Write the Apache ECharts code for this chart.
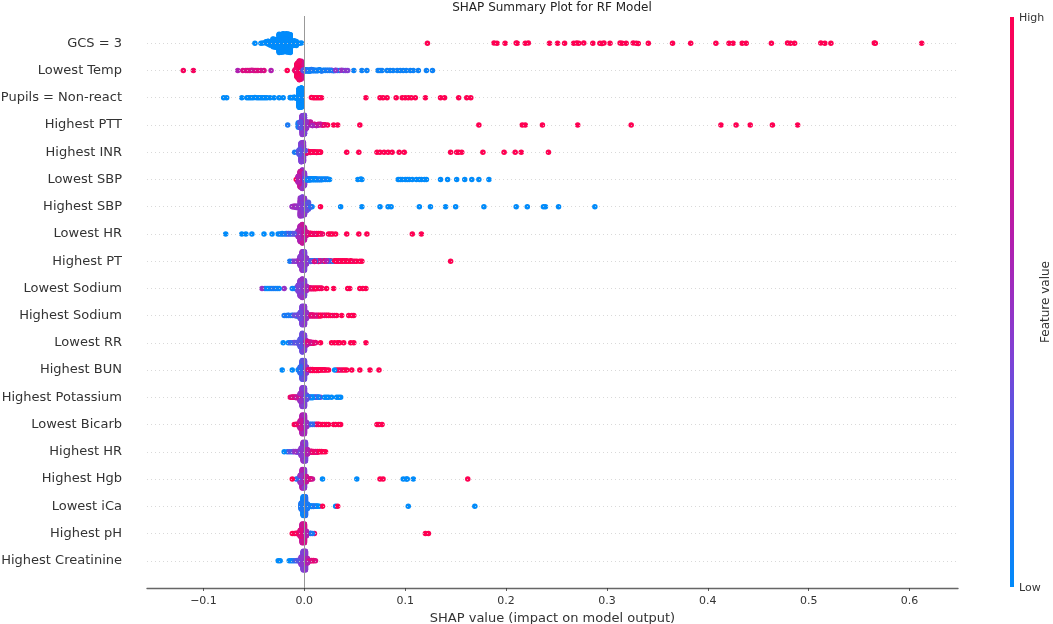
<!DOCTYPE html>
<html lang="en">
<head>
    <meta charset="UTF-8">
    <title>SHAP Summary Plot for RF Model</title>
    <script src="https://cdn.jsdelivr.net/npm/echarts@6.0.0/dist/echarts.min.js"></script>
    <style>
        html, body { margin: 0; padding: 0; background: #fff; }
        #chart { width: 1053px; height: 624px; }
    </style>
</head>
<body>
<div id="chart"></div>
<script>
    // features, top row first
    const features = ['GCS = 3', 'Lowest Temp', 'Pupils = Non-react', 'Highest PTT', 'Highest INR',
        'Lowest SBP', 'Highest SBP', 'Lowest HR', 'Highest PT', 'Lowest Sodium', 'Highest Sodium',
        'Lowest RR', 'Highest BUN', 'Highest Potassium', 'Lowest Bicarb', 'Highest HR', 'Highest Hgb',
        'Lowest iCa', 'Highest pH', 'Highest Creatinine'];
    const tickValues = [-0.1, 0.0, 0.1, 0.2, 0.3, 0.4, 0.5, 0.6];

    // each point: [shap value, feature value (0 low .. 1 high), count]
    const gcs3 = [
        [-0.049, 0], [-0.043, 0], [-0.041, 0],
        [-0.038, 0, 4], [-0.036, 0, 6], [-0.034, 0, 6],
        [-0.031, 0, 10], [-0.029, 0, 13], [-0.027, 0, 14],
        [-0.025, 0, 25], [-0.023, 0, 28], [-0.021, 0, 27],
        [-0.018, 0, 28], [-0.016, 0, 28], [-0.014, 0, 24],
        [-0.012, 0, 9], [-0.010, 0, 7], [-0.008, 0, 5], [-0.005, 0], [-0.003, 0],
        [0.122, 1], [0.188, 1], [0.191, 1], [0.199, 1], [0.210, 1], [0.211, 1], [0.219, 1], [0.222, 1],
        [0.243, 1], [0.251, 1], [0.258, 1], [0.267, 1], [0.270, 1], [0.272, 1], [0.277, 1], [0.286, 1],
        [0.293, 1], [0.295, 1], [0.297, 1], [0.303, 1], [0.313, 1], [0.315, 1], [0.319, 1], [0.326, 1],
        [0.329, 1], [0.331, 1], [0.341, 1], [0.365, 1], [0.383, 1], [0.408, 1], [0.421, 1], [0.425, 1],
        [0.434, 1], [0.438, 1], [0.463, 1], [0.479, 1], [0.482, 1], [0.486, 1], [0.512, 1], [0.516, 1],
        [0.522, 1], [0.565, 1], [0.566, 1], [0.612, 1]
    ];
    const lowestTemp = [
        [-0.120, 0.95], [-0.110, 0.95], [-0.066, 0.6],
        [-0.061, 0.8], [-0.058, 0.75], [-0.056, 0.8], [-0.054, 0.85], [-0.052, 0.75], [-0.050, 0.8],
        [-0.048, 0.7], [-0.046, 0.8], [-0.043, 0.75], [-0.040, 0.8],
        [-0.033, 0.6], [-0.017, 1],
        [-0.009, 0.9, 6], [-0.007, 0.95, 60], [-0.005, 0.9, 70], [-0.003, 0.75, 12],
        [-0.001, 0.3, 4], [0.001, 0.1, 6], [0.003, 0.05, 5], [0.005, 0.05, 4], [0.007, 0.1, 4],
        [0.009, 0.05, 4], [0.011, 0.1, 3], [0.013, 0.05, 3], [0.015, 0.05, 3], [0.017, 0.1, 3],
        [0.019, 0.05, 2], [0.021, 0.05, 2], [0.023, 0.1, 2], [0.025, 0.05, 2],
        [0.027, 0.4, 2], [0.029, 0.1], [0.031, 0.45, 2], [0.033, 0.1], [0.035, 0.4], [0.037, 0.5],
        [0.039, 0.1], [0.041, 0.45], [0.043, 0.4],
        [0.049, 0.05], [0.057, 0.05], [0.062, 0.05], [0.073, 0.05], [0.075, 0.05], [0.077, 0.05],
        [0.082, 0.05], [0.085, 0.05], [0.088, 0.05], [0.092, 0.05], [0.095, 0.05], [0.098, 0.05],
        [0.101, 0.05], [0.105, 0.05], [0.108, 0.05], [0.113, 0.05], [0.121, 0.05], [0.127, 0.05]
    ];
    const pupilsNonReact = [
        [-0.080, 0], [-0.077, 0], [-0.062, 0],
        [-0.057, 0], [-0.055, 0], [-0.053, 0], [-0.051, 0], [-0.049, 0], [-0.047, 0], [-0.045, 0],
        [-0.043, 0], [-0.041, 0], [-0.039, 0], [-0.037, 0], [-0.034, 0], [-0.030, 0], [-0.025, 0], [-0.021, 0],
        [-0.014, 0, 2], [-0.012, 0, 2], [-0.010, 0, 3], [-0.008, 0, 4],
        [-0.005, 0, 80], [-0.003, 0, 90],
        [0.007, 1], [0.009, 1], [0.011, 1], [0.013, 1], [0.015, 1], [0.017, 1],
        [0.061, 1], [0.075, 1], [0.078, 1], [0.082, 1], [0.091, 1], [0.097, 1], [0.100, 1], [0.103, 1],
        [0.106, 1], [0.110, 1], [0.120, 1], [0.135, 1], [0.139, 1], [0.153, 1], [0.161, 1], [0.165, 1]
    ];
    const highestPTT = [
        [-0.0165, 0.1], [-0.006, 0.1, 6],
        [-0.004, 0.3, 30], [-0.002, 0.45, 60], [0.000, 0.4, 60], [0.002, 0.5, 30],
        [0.004, 0.6, 6], [0.006, 0.7, 5], [0.008, 0.55, 5], [0.010, 0.75, 4], [0.012, 0.6, 4],
        [0.014, 0.8, 3], [0.016, 0.7, 3], [0.018, 0.85, 2], [0.020, 0.9, 2],
        [0.023, 1], [0.029, 1], [0.033, 1], [0.055, 1], [0.173, 1], [0.216, 1], [0.219, 1], [0.236, 1],
        [0.271, 1], [0.324, 1], [0.413, 1], [0.428, 1], [0.442, 1], [0.464, 1], [0.489, 1]
    ];
    const highestINR = [
        [-0.0096, 0.1],
        [-0.005, 0.3, 30], [-0.003, 0.4, 70], [-0.001, 0.45, 60], [0.001, 0.35, 20],
        [0.002, 0.9, 6], [0.004, 1, 5], [0.006, 0.95, 5], [0.008, 1, 4], [0.010, 0.9, 4],
        [0.012, 1, 3], [0.014, 1, 2], [0.016, 1, 2],
        [0.042, 1], [0.054, 1], [0.072, 1], [0.075, 1], [0.079, 1], [0.083, 1], [0.087, 1], [0.094, 1],
        [0.099, 1], [0.145, 1], [0.151, 1], [0.153, 1], [0.156, 1], [0.177, 1], [0.198, 1], [0.209, 1],
        [0.215, 1], [0.242, 1]
    ];
    const lowestSBP = [
        [-0.008, 1],
        [-0.006, 0.6, 20], [-0.004, 0.7, 50], [-0.002, 0.5, 60], [0.000, 0.45, 40], [0.001, 0.3, 10],
        [0.003, 0.05, 5], [0.005, 0, 5], [0.007, 0.05, 4], [0.009, 0, 4], [0.011, 0.05, 4], [0.013, 0, 3],
        [0.015, 0.05, 3], [0.017, 0, 3], [0.019, 0, 2], [0.021, 0.05, 2], [0.023, 0, 2], [0.025, 0],
        [0.053, 0], [0.056, 0], [0.057, 0],
        [0.093, 0], [0.095, 0], [0.097, 0], [0.100, 0], [0.102, 0], [0.104, 0], [0.107, 0], [0.111, 0],
        [0.114, 0], [0.116, 0], [0.119, 0], [0.121, 0], [0.135, 0], [0.142, 0], [0.151, 0], [0.159, 0],
        [0.166, 0], [0.173, 0], [0.183, 0]
    ];
    const highestSBP = [
        [-0.012, 0.5, 2], [-0.010, 0.55, 3], [-0.008, 0.5, 4], [-0.006, 0.45, 6],
        [-0.004, 0.5, 20], [-0.002, 0.4, 60], [0.000, 0.45, 70], [0.002, 0.35, 30], [0.004, 0.3, 6],
        [0.006, 0.2, 3],
        [0.0076, 0], [0.016, 1], [0.036, 0], [0.057, 0], [0.075, 0], [0.083, 0], [0.086, 0], [0.114, 0],
        [0.125, 0], [0.140, 0], [0.150, 0], [0.178, 0], [0.210, 0], [0.221, 0], [0.237, 0], [0.239, 0],
        [0.252, 0], [0.288, 0]
    ];
    const lowestHR = [
        [-0.078, 0], [-0.062, 0], [-0.058, 0], [-0.052, 0], [-0.040, 0], [-0.032, 0],
        [-0.026, 0], [-0.024, 0.05], [-0.022, 0, 2], [-0.020, 0.1], [-0.018, 0.05, 2],
        [-0.016, 0.3, 2], [-0.014, 0.2, 2], [-0.012, 0.35, 2], [-0.010, 0.3, 2], [-0.008, 0.4, 3],
        [-0.006, 0.55, 20], [-0.004, 0.6, 50], [-0.002, 0.7, 60], [0.000, 0.65, 40], [0.002, 0.75, 12],
        [0.004, 0.9, 4], [0.006, 0.95, 4], [0.008, 1, 3], [0.010, 0.9, 3], [0.012, 1, 3], [0.014, 0.95, 2],
        [0.016, 1, 2], [0.018, 0.9],
        [0.024, 1], [0.026, 1], [0.028, 1], [0.031, 1], [0.042, 1], [0.054, 1], [0.062, 1], [0.107, 1], [0.116, 1]
    ];
    const highestPT = [
        [-0.0145, 0.1], [-0.012, 0.5], [-0.010, 0.45], [-0.008, 0.5], [-0.006, 0.55, 2],
        [-0.004, 0.45, 30], [-0.002, 0.5, 60], [0.000, 0.4, 60], [0.002, 0.45, 20],
        [0.004, 0.6, 3], [0.006, 0.3, 3], [0.008, 0.1, 2], [0.010, 0.8, 3], [0.012, 0.2, 2], [0.014, 0.85, 3],
        [0.016, 0.7, 2], [0.018, 0.1, 2], [0.020, 0.9, 2], [0.022, 0.6, 2], [0.024, 0.2, 2], [0.026, 0.9, 2],
        [0.028, 0.1],
        [0.030, 1, 2], [0.032, 1, 2], [0.034, 0.95, 2], [0.036, 1, 2], [0.038, 1, 2], [0.040, 0.9, 2],
        [0.042, 1, 2], [0.044, 1], [0.046, 1, 2], [0.048, 0.95], [0.050, 1], [0.052, 1], [0.055, 1],
        [0.057, 1], [0.145, 1]
    ];
    const lowestSodium = [
        [-0.042, 0.5], [-0.039, 0.05], [-0.037, 0], [-0.035, 0.05], [-0.033, 0], [-0.031, 0.1], [-0.029, 0],
        [-0.027, 0.05], [-0.025, 0], [-0.020, 0.5], [-0.012, 0.05], [-0.010, 0.1], [-0.008, 0.2, 2],
        [-0.006, 0.4, 20], [-0.004, 0.45, 50], [-0.002, 0.5, 60], [0.000, 0.4, 50], [0.002, 0.55, 15],
        [0.005, 0.8, 4], [0.007, 0.9, 3], [0.009, 0.85, 3], [0.011, 1, 3], [0.013, 0.9, 2], [0.015, 1, 2],
        [0.017, 0.95, 2],
        [0.022, 1], [0.029, 1], [0.043, 1], [0.045, 1], [0.055, 1], [0.058, 1], [0.061, 1]
    ];
    const highestSodium = [
        [-0.020, 0.1], [-0.018, 0.05], [-0.016, 0.1, 2], [-0.014, 0.3], [-0.012, 0.1, 2], [-0.010, 0.35, 2],
        [-0.008, 0.2, 3], [-0.006, 0.4, 4],
        [-0.004, 0.35, 20], [-0.002, 0.4, 60], [0.000, 0.45, 60], [0.002, 0.5, 20],
        [0.004, 0.75, 4], [0.006, 0.8, 4], [0.008, 0.85, 4], [0.010, 0.9, 3], [0.012, 0.8, 3], [0.014, 0.95, 3],
        [0.016, 1, 3], [0.018, 0.9, 2], [0.020, 1, 2], [0.022, 0.95, 2], [0.024, 1, 2], [0.026, 1],
        [0.028, 0.95], [0.030, 1], [0.032, 1],
        [0.037, 1], [0.044, 1], [0.047, 1], [0.049, 1]
    ];
    const lowestRR = [
        [-0.021, 0], [-0.016, 0], [-0.014, 0.2], [-0.012, 0.3], [-0.010, 0.35, 2], [-0.008, 0.3, 2],
        [-0.006, 0.4, 3],
        [-0.004, 0.3, 25], [-0.002, 0.35, 60], [0.000, 0.4, 50], [0.002, 0.6, 15],
        [0.003, 0.8, 6], [0.005, 0.75, 6], [0.007, 0.8, 4], [0.009, 0.9, 3], [0.011, 0.85, 2],
        [0.016, 1], [0.027, 1], [0.030, 1], [0.033, 1], [0.035, 1], [0.039, 1], [0.046, 1], [0.049, 1], [0.061, 1]
    ];
    const highestBUN = [
        [-0.022, 0], [-0.012, 0], [-0.006, 0.05, 2],
        [-0.004, 0.2, 20], [-0.002, 0.3, 60], [0.000, 0.35, 60], [0.002, 0.45, 20],
        [0.004, 0.85, 4], [0.006, 0.9, 4], [0.008, 1, 4], [0.010, 0.9, 3], [0.012, 1, 3], [0.014, 0.95, 3],
        [0.016, 1, 2], [0.018, 1, 2], [0.020, 0.9, 2], [0.022, 1], [0.024, 1],
        [0.030, 0], [0.032, 1], [0.034, 1], [0.036, 0.9], [0.038, 1], [0.040, 1], [0.042, 1], [0.047, 1],
        [0.055, 1], [0.065, 1], [0.074, 1]
    ];
    const highestPotassium = [
        [-0.014, 0.9], [-0.012, 0.8, 2], [-0.010, 0.9, 2], [-0.008, 0.7, 3], [-0.006, 0.75, 3],
        [-0.004, 0.5, 25], [-0.002, 0.45, 60], [0.000, 0.4, 60], [0.002, 0.35, 15],
        [0.004, 0.2, 4], [0.006, 0.05, 3], [0.008, 0, 3], [0.010, 0.1, 2], [0.012, 0.3, 2], [0.014, 0.05, 2],
        [0.016, 0.35], [0.020, 0], [0.022, 0], [0.024, 0.05], [0.027, 0], [0.032, 0], [0.034, 0], [0.036, 0]
    ];
    const lowestBicarb = [
        [-0.010, 1], [-0.008, 0.9, 2], [-0.006, 0.85, 3],
        [-0.004, 0.7, 25], [-0.002, 0.6, 60], [0.000, 0.55, 60], [0.002, 0.5, 15],
        [0.004, 0.3, 3], [0.006, 0.1, 2], [0.008, 0.2, 2], [0.010, 0.05, 2],
        [0.012, 0.9, 2], [0.014, 1, 2], [0.016, 0.95], [0.018, 1], [0.020, 1], [0.022, 1], [0.024, 1],
        [0.029, 1], [0.031, 1], [0.034, 1], [0.036, 1], [0.072, 1], [0.074, 1], [0.077, 1]
    ];
    const highestHR = [
        [-0.020, 0], [-0.017, 0.1], [-0.015, 0.3], [-0.013, 0.05], [-0.011, 0.4, 2], [-0.009, 0.5, 2],
        [-0.007, 0.35, 3], [-0.005, 0.6, 4],
        [-0.003, 0.45, 25], [-0.001, 0.5, 60], [0.001, 0.4, 60], [0.003, 0.6, 15],
        [0.005, 0.8, 4], [0.007, 0.85, 4], [0.009, 0.9, 3], [0.011, 0.8, 3], [0.013, 0.95, 3], [0.015, 1, 2],
        [0.017, 0.9, 2], [0.019, 1], [0.021, 1]
    ];
    const highestHgb = [
        [-0.012, 1], [-0.008, 0.1], [-0.006, 0.2, 2],
        [-0.004, 0.5, 20], [-0.002, 0.6, 50], [0.000, 0.45, 50], [0.002, 0.7, 15],
        [0.004, 0.75, 3], [0.006, 0.8, 2], [0.008, 0.7],
        [0.018, 0], [0.052, 0], [0.075, 1], [0.078, 1], [0.098, 0], [0.101, 0], [0.102, 0], [0.108, 0], [0.162, 1]
    ];
    const lowestICa = [
        [-0.003, 0.1, 20], [-0.001, 0.05, 60], [0.001, 0.15, 60], [0.003, 0.1, 15],
        [0.005, 0.05, 4], [0.007, 0, 3], [0.009, 0.1, 3], [0.011, 0.05, 2], [0.013, 0, 2], [0.015, 0],
        [0.018, 1], [0.031, 0], [0.033, 1], [0.103, 0], [0.169, 0]
    ];
    const highestPH = [
        [-0.012, 1], [-0.010, 0.9], [-0.008, 0.95, 2], [-0.006, 0.85, 3],
        [-0.004, 0.8, 20], [-0.002, 0.7, 60], [0.000, 0.75, 60], [0.002, 0.6, 15],
        [0.006, 0.2, 2], [0.008, 0.1], [0.010, 0.85], [0.120, 1], [0.123, 1]
    ];
    const highestCreatinine = [
        [-0.026, 0], [-0.024, 0], [-0.015, 0], [-0.013, 0.1], [-0.011, 0.05], [-0.009, 0.2],
        [-0.007, 0.3, 2], [-0.005, 0.4, 3],
        [-0.003, 0.45, 25], [-0.001, 0.4, 60], [0.001, 0.45, 60], [0.003, 0.6, 15],
        [0.005, 0.8, 3], [0.007, 0.85, 2], [0.009, 0.9, 2], [0.011, 0.8]
    ];

    const rows = [gcs3, lowestTemp, pupilsNonReact, highestPTT, highestINR, lowestSBP, highestSBP,
        lowestHR, highestPT, lowestSodium, highestSodium, lowestRR, highestBUN, highestPotassium,
        lowestBicarb, highestHR, highestHgb, lowestICa, highestPH, highestCreatinine];

    // blue -> purple -> red, like shap's red_blue map
    const colorStops = ['#008bfb', '#3468ec', '#7e42d6', '#b01fb0', '#dc0c80', '#ff0052'];

    // fixed shuffle key so colours mix inside a stack
    const mixKey = k => ((k + 1) * 0.6180339887) % 1;

    // beeswarm like shap: bin by x, stack each bin up and down
    function swarm(points, pos) {
        const pts = [];
        points.forEach(p => {
            const n = p[2] || 1;
            for (let j = 0; j < n; j++) pts.push({ x: p[0], c: p[1] });
        });
        pts.forEach((p, k) => { p.key = mixKey(k); });
        pts.sort((a, b) => a.key - b.key);
        const xs = pts.map(p => p.x);
        const lo = Math.min(...xs), hi = Math.max(...xs);
        pts.forEach(p => { p.q = Math.round(100 * (p.x - lo) / (hi - lo + 1e-8)); });
        const order = pts.slice().sort((a, b) => a.q - b.q || a.key - b.key);
        let layer = 0, last = -1;
        order.forEach(p => {
            if (p.q !== last) layer = 0;
            p.y = Math.ceil(layer / 2) * ((layer % 2) * 2 - 1);
            layer++;
            last = p.q;
        });
        const top = Math.max(...pts.map(p => p.y + 1));
        const scale = 0.9 * 0.4 / top;
        return pts.map(p => [p.x, pos + p.y * scale, p.c]);
    }

    let dots = [];
    rows.forEach((r, i) => { dots = dots.concat(swarm(r, features.length - 1 - i)); });

    const fmtTick = v => (v < 0 ? '\u2212' + Math.abs(v).toFixed(1) : v.toFixed(1));

    const chart = echarts.init(document.getElementById('chart'));
    chart.setOption({
        animation: false,
        textStyle: { fontFamily: 'DejaVu Sans' },
        grid: { left: 147, right: 95, top: 16, bottom: 36, containLabel: false, outerBoundsMode: 'none' },
        xAxis: {
            type: 'value',
            min: -0.156,
            max: 0.648,
            name: 'SHAP value (impact on model output)',
            nameLocation: 'middle',
            nameGap: 19,
            nameTextStyle: { fontSize: 13, color: '#333' },
            splitLine: { show: false },
            axisLine: { onZero: false, lineStyle: { color: '#666', width: 1.4 } },
            axisTick: { length: 3, lineStyle: { color: '#333', width: 0.8 }, customValues: tickValues },
            axisLabel: { fontSize: 11, color: '#333', margin: 8, customValues: tickValues, formatter: fmtTick }
        },
        yAxis: {
            type: 'value',
            min: -1,
            max: features.length,
            interval: 1,
            axisLine: { show: false },
            axisTick: { show: false },
            splitLine: { show: false },
            axisLabel: {
                fontSize: 13,
                color: '#333',
                margin: 25,
                formatter: v => (v >= 0 && v < features.length ? features[features.length - 1 - v] : '')
            }
        },
        visualMap: {
            type: 'continuous',
            show: false,
            seriesIndex: 0,
            dimension: 2,
            min: 0,
            max: 1,
            inRange: { color: colorStops }
        },
        series: [
            {
                type: 'scatter',
                data: dots,
                symbolSize: 5.5,
                progressive: 0,
                z: 3,
                itemStyle: { opacity: 1 },
                silent: true
            },
            {
                type: 'scatter',
                data: [],
                z: 1,
                silent: true,
                markLine: {
                    silent: true,
                    symbol: 'none',
                    animation: false,
                    label: { show: false },
                    data: [{ xAxis: 0, lineStyle: { color: '#999', width: 1, type: 'solid' } }]
                        .concat(features.map((f, i) => ({
                            yAxis: i,
                            lineStyle: { color: '#cfcfcf', width: 0.8, type: [1, 3] }
                        })))
                }
            }
        ],
        graphic: [
            {
                type: 'text', x: 552, y: 8,
                style: { text: 'SHAP Summary Plot for RF Model', font: '12px "DejaVu Sans"', fill: '#222',
                    textAlign: 'center', textVerticalAlign: 'middle' }
            },
            {
                type: 'rect', shape: { x: 1010, y: 17, width: 4, height: 570 },
                style: {
                    fill: new echarts.graphic.LinearGradient(0, 1, 0, 0,
                        colorStops.map((c, i) => ({ offset: i / (colorStops.length - 1), color: c })))
                }
            },
            {
                type: 'text', x: 1019, y: 18,
                style: { text: 'High', font: '11px "DejaVu Sans"', fill: '#333', textVerticalAlign: 'middle' }
            },
            {
                type: 'text', x: 1019, y: 588,
                style: { text: 'Low', font: '11px "DejaVu Sans"', fill: '#333', textVerticalAlign: 'middle' }
            },
            {
                type: 'text', x: 1046, y: 302, rotation: Math.PI / 2,
                style: { text: 'Feature value', font: '12px "DejaVu Sans"', fill: '#333',
                    textAlign: 'center', textVerticalAlign: 'middle' }
            }
        ]
    });
</script>
</body>
</html>
